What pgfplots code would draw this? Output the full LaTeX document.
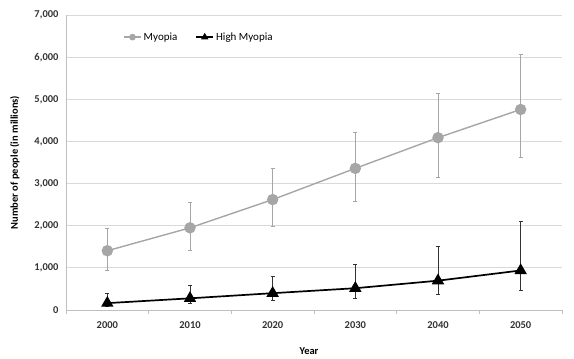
\documentclass[border=0pt]{standalone}
\usepackage{pgfplots}
\pgfplotsset{compat=1.18}
\usepackage{pgfplotstable}
\usepackage{fontspec}
\setmainfont{Carlito}
\definecolor{myogray}{HTML}{A6A6A6}
\definecolor{gridgray}{HTML}{D9D9D9}
\definecolor{axgray}{HTML}{BFBFBF}
\pgfplotstableread{
x y ep em
0 1406 526 474
1 1950 593 528
2 2620 746 644
3 3361 856 783
4 4089 1039 944
5 4758 1298 1138
}\myopia
\pgfplotstableread{
x y ep em
0 163 224 77
1 277 312 124
2 399 407 159
3 517 565 229
4 696 812 325
5 938 1166 459
}\highmyopia
\begin{document}
\begin{tikzpicture}
\useasboundingbox (-66pt,-49pt) rectangle (508pt,310pt);
\begin{axis}[
  at={(0,0)}, anchor=south west,
  scale only axis, width=496pt, height=295pt,
  xmin=-0.5, xmax=5.5, ymin=0, ymax=7000,
  xtick={0,1,2,3,4,5},
  xticklabels={2000,2010,2020,2030,2040,2050},
  minor xtick={-0.5,0.5,1.5,2.5,3.5,4.5,5.5},
  major tick length=0pt, minor tick length=4pt,
  tick align=outside,
  ytick={0,1000,...,7000},
  scaled y ticks=false,
  /pgf/number format/fixed,
  /pgf/number format/1000 sep={,},
  /pgf/number format/assume math mode=true,
  ticklabel style={font=\bfseries\fontsize{10.5}{12}\selectfont, text=black!80},
  ymajorgrids, grid style={gridgray, line width=0.8pt},
  axis x line*=bottom, axis y line*=left,
  axis line style={axgray, line width=0.8pt, -},
  every minor tick/.style={axgray, line width=0.8pt},
  xticklabel style={yshift=-8pt},
  yticklabel style={xshift=-4pt},
  xlabel={Year}, ylabel={Number of people (in millions)},
  label style={font=\bfseries\fontsize{10.5}{12}\selectfont},
  xlabel style={at={(rel axis cs:0.49,0)}, yshift=-34pt},
  ylabel style={yshift=8pt},
  legend style={at={(0.268,0.925)}, anchor=center, draw=none, fill=none,
    legend columns=2, font=\fontsize{11}{13}\selectfont,
    /tikz/every even column/.append style={column sep=16pt}},
  legend image code/.code={
    \draw[#1,mark size=2.6pt] (0cm,0cm) -- (0.6cm,0cm);
    \draw[#1,mark size=2.6pt] plot coordinates {(0.3cm,0cm)};},
]
\addplot[myogray, line width=1.4pt, mark=*, mark size=5pt,
  mark options={fill=myogray, draw=myogray},
  error bars/.cd, y dir=both, y explicit,
  error bar style={myogray, line width=0.8pt},
  error mark options={rotate=90, mark size=2pt, myogray, line width=0.8pt}]
  table[x=x, y=y, y error plus=ep, y error minus=em] {\myopia};
\addlegendentry{Myopia}
\addplot[black, line width=1.7pt, mark=triangle*, mark size=5.5pt,
  mark options={fill=black, draw=black},
  error bars/.cd, y dir=both, y explicit,
  error bar style={black!80, line width=0.6pt},
  error mark options={rotate=90, mark size=2pt, black!80, line width=0.6pt}]
  table[x=x, y=y, y error plus=ep, y error minus=em] {\highmyopia};
\addlegendentry{High Myopia}
\end{axis}
\end{tikzpicture}
\end{document}
